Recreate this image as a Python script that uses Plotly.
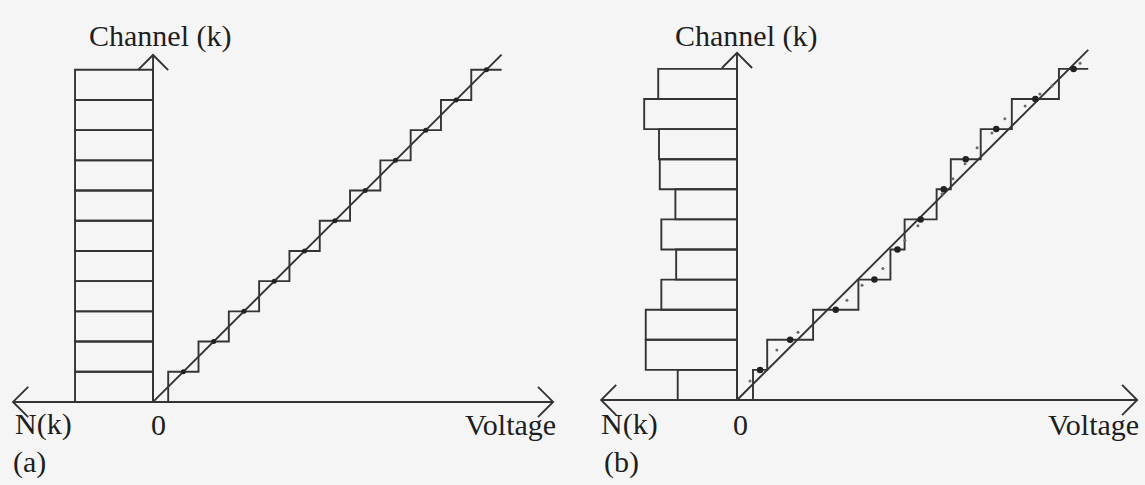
import plotly.graph_objects as go

# ---- data -------------------------------------------------------------
channels = [1, 2, 3, 4, 5, 6, 7, 8, 9, 10, 11]

# (a) ideal converter: code transition voltages (in LSB) and histogram N(k)
ideal_transitions = [0.5, 1.5, 2.5, 3.5, 4.5, 5.5, 6.5, 7.5, 8.5, 9.5, 10.5]
ideal_last_edge = 11.5
ideal_counts = [1.0, 1.0, 1.0, 1.0, 1.0, 1.0, 1.0, 1.0, 1.0, 1.0, 1.0]

# (b) real converter with differential non-linearity
real_transitions = [0.53, 1.0, 2.52, 4.02, 5.08, 5.55, 6.61, 7.08, 8.07, 9.10, 10.66]
real_last_edge = 11.63
real_counts = [0.76, 1.17, 1.17, 0.97, 0.78, 0.97, 0.79, 0.99, 1.0, 1.19, 1.01]

# (b) scattered individual measurements around the transfer curve
real_marks_v = [0.43, 1.32, 2.02, 3.64, 4.14, 4.83, 5.56, 5.99, 6.79, 7.15,
                7.55, 7.95, 8.44, 8.87, 9.54, 10.03, 10.43, 11.36]
real_marks_k = [0.63, 1.66, 2.25, 3.31, 3.81, 4.37, 5.30, 5.79, 6.85, 7.35,
                7.85, 8.38, 8.87, 9.34, 9.77, 10.17, 10.43, 11.19]

# ---- style -------------------------------------------------------------
INK = "#343434"
TXT = "#1e1e1e"
LW = 1.9
FONT = dict(family="Liberation Serif, Times New Roman, serif", size=30, color=TXT)

fig = go.Figure()


def staircase(transitions, last_edge):
    xs = [0.0] + list(transitions) + [last_edge]
    ys = [0] + channels + [channels[-1]]
    return xs, ys


def code_centres(transitions, last_edge):
    edges = list(transitions) + [last_edge]
    return [(edges[i] + edges[i + 1]) / 2 for i in range(len(channels))]


panels = [
    # xa, ya, histogram axis, transitions, last edge, counts, dot size
    ("x", "y", "x3", ideal_transitions, ideal_last_edge, ideal_counts, 5),
    ("x2", "y2", "x4", real_transitions, real_last_edge, real_counts, 6.5),
]

for xa, ya, xh, trans, last, counts, dsize in panels:
    # histogram N(k), one bar per channel, drawn leftwards from the channel axis
    fig.add_trace(go.Bar(
        x=counts, y=[k - 0.5 for k in channels], orientation="h", width=1,
        base=0, xaxis=xh, yaxis=ya,
        marker=dict(color="rgba(0,0,0,0)", line=dict(color=INK, width=LW)),
        showlegend=False, hoverinfo="skip"))
    # ideal straight-line response
    fig.add_trace(go.Scatter(
        x=[0, last], y=[0, last], mode="lines", xaxis=xa, yaxis=ya,
        line=dict(color=INK, width=LW), showlegend=False, hoverinfo="skip"))
    # quantised staircase
    sx, sy = staircase(trans, last)
    fig.add_trace(go.Scatter(
        x=sx, y=sy, mode="lines", line_shape="hv", xaxis=xa, yaxis=ya,
        line=dict(color=INK, width=LW), showlegend=False, hoverinfo="skip"))
    # code-bin centres
    fig.add_trace(go.Scatter(
        x=code_centres(trans, last), y=channels, mode="markers",
        xaxis=xa, yaxis=ya, marker=dict(color="#222222", size=dsize),
        showlegend=False, hoverinfo="skip"))

fig.add_trace(go.Scatter(
    x=real_marks_v, y=real_marks_k, mode="markers", xaxis="x2", yaxis="y2",
    marker=dict(color="#6a6a6a", size=3),
    showlegend=False, hoverinfo="skip"))

# ---- axes with open arrow heads ----------------------------------------
def axis_shapes(xr, yr, left, right, top, arm=0.5):
    line = dict(color=INK, width=LW)
    s = []
    s.append(dict(type="line", xref=xr, yref=yr, x0=left, y0=0, x1=right, y1=0, line=line))
    s.append(dict(type="line", xref=xr, yref=yr, x0=0, y0=0, x1=0, y1=top, line=line))
    s.append(dict(type="path", xref=xr, yref=yr, line=line,
                  path=f"M{left + arm},{arm} L{left},0 L{left + arm},{-arm}"))
    s.append(dict(type="path", xref=xr, yref=yr, line=line,
                  path=f"M{right - arm},{arm} L{right},0 L{right - arm},{-arm}"))
    s.append(dict(type="path", xref=xr, yref=yr, line=line,
                  path=f"M{-arm},{top - arm} L0,{top} L{arm},{top - arm}"))
    return s

shapes = axis_shapes("x", "y", -4.62, 13.2, 11.49) + \
         axis_shapes("x2", "y2", -4.5, 13.25, 11.53)

# ---- labels ---------------------------------------------------------------
W, H = 1145, 485
labels = [
    ("Channel (k)", 160, 36), ("N(k)", 43, 424), ("0", 158, 424),
    ("Voltage", 510, 424), ("(a)", 29, 462),
    ("Channel (k)", 746, 36), ("N(k)", 629, 424), ("0", 740, 424),
    ("Voltage", 1093, 424), ("(b)", 621, 462),
]
annotations = [dict(text=t, x=px / W, y=1 - py / H, xref="paper", yref="paper",
                    xanchor="center", yanchor="middle", showarrow=False, font=FONT)
               for t, px, py in labels]

hidden = dict(visible=False, showgrid=False, zeroline=False, fixedrange=True)
fig.update_layout(
    width=W, height=H, margin=dict(l=0, r=0, t=0, b=0),
    paper_bgcolor="#f5f5f5", plot_bgcolor="rgba(0,0,0,0)",
    barmode="overlay", shapes=shapes, annotations=annotations,
    xaxis=dict(domain=[0, 0.5], range=[-5.05, 13.84], **hidden),
    yaxis=dict(domain=[0, 1], range=[-2.75, 13.31], **hidden),
    xaxis3=dict(overlaying="x", range=[1.962, -5.378], **hidden),
    xaxis2=dict(domain=[0.5, 1], range=[-5.447, 13.51], **hidden),
    yaxis2=dict(domain=[0, 1], range=[-2.824, 13.289], anchor="x2", **hidden),
    xaxis4=dict(overlaying="x2", range=[2.109, -5.231], **hidden),
)
fig.update_layout(yaxis2_anchor="x2", xaxis2_anchor="y2")

fig.write_html("out.html")
